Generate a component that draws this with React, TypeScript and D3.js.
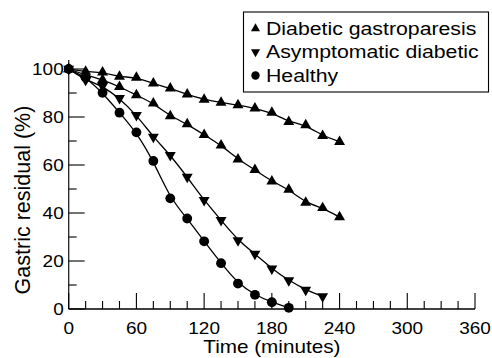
import React from 'react';
import * as d3 from 'd3';

// Gastric emptying curves: residual (%) over time, three groups.
// Values; markers every 15 min.

const gastroTimes = [0, 15, 30, 45, 60, 75, 90, 105, 120, 135, 150, 165, 180, 195, 210, 225, 240];
const gastroValues = [100, 98.9, 98.6, 96.8, 96.4, 94, 91.9, 89.4, 87.3, 86, 85, 83.6, 81.8, 78, 76.6, 72.2, 69.7];

// second upward-triangle series, as printed in the original
const gastro2Times = [0, 15, 30, 45, 60, 75, 90, 105, 120, 135, 150, 165, 180, 195, 210, 225, 240];
const gastro2Values = [100, 97.5, 95.5, 92.6, 89.1, 85.7, 80.4, 77, 72.6, 68.2, 62.4, 58, 53.2, 49.8, 44.3, 42.1, 38.3];

const asymTimes = [0, 15, 30, 45, 60, 75, 90, 105, 120, 135, 150, 165, 180, 195, 210, 225];
const asymValues = [100, 95.4, 92.9, 87.8, 80.8, 71.7, 64.1, 55, 45.3, 37, 28.6, 23, 16.8, 11.9, 8, 5.2];

const healthyTimes = [0, 15, 30, 45, 60, 75, 90, 105, 120, 135, 150, 165, 180, 195];
const healthyValues = [100, 96.5, 90.1, 81.8, 73.6, 61.7, 46.1, 37.7, 28.2, 19.1, 10.6, 5.9, 2.8, 0.5];

const xMajorTicks = [0, 60, 120, 180, 240, 300, 360];
const xMinorTicks = d3.range(15, 360, 15).filter((t) => t % 60 !== 0);
const yMajorTicks = [0, 20, 40, 60, 80, 100];
const yMinorTicks = [10, 30, 50, 70, 90];

const legendItems = [
  { label: 'Diabetic gastroparesis', symbol: 'up' },
  { label: 'Asymptomatic diabetic', symbol: 'down' },
  { label: 'Healthy', symbol: 'circle' },
];

const W = 492;
const H = 358;
const FONT = '"Liberation Sans", Arial, Helvetica, sans-serif';
const STRETCH = 1.15;

const x = d3.scaleLinear().domain([0, 360]).range([68.7, 475]);
const y = d3.scaleLinear().domain([0, 100]).range([309, 69]);

const triPath = d3.symbol().type(d3.symbolTriangle).size(52)() ?? '';
const circPath = d3.symbol().type(d3.symbolCircle).size(76)() ?? '';
const legTriPath = d3.symbol().type(d3.symbolTriangle).size(36)() ?? '';
const legCircPath = d3.symbol().type(d3.symbolCircle).size(56)() ?? '';

function Marker({ kind, cx, cy, small }: { kind: string; cx: number; cy: number; small?: boolean }) {
  if (kind === 'circle') {
    return <path d={small ? legCircPath : circPath} transform={`translate(${cx},${cy})`} fill="#000" />;
  }
  const rot = kind === 'down' ? ' rotate(180)' : '';
  return <path d={small ? legTriPath : triPath} transform={`translate(${cx},${cy})${rot}`} fill="#000" />;
}

function StretchText({
  tx,
  ty,
  size,
  anchor = 'start',
  children,
}: {
  tx: number;
  ty: number;
  size: number;
  anchor?: string;
  children: React.ReactNode;
}) {
  return (
    <text
      transform={`translate(${tx},${ty}) scale(${STRETCH},1)`}
      fontSize={size}
      fontFamily={FONT}
      textAnchor={anchor as any}
      fill="#000"
    >
      {children}
    </text>
  );
}

export default function App() {
  const line = d3
    .line<[number, number]>()
    .x((d) => x(d[0]))
    .y((d) => y(d[1]))
    .curve(d3.curveBasis);

  const series = [
    { times: gastroTimes, values: gastroValues, kind: 'up' },
    { times: gastro2Times, values: gastro2Values, kind: 'up' },
    { times: asymTimes, values: asymValues, kind: 'down' },
    { times: healthyTimes, values: healthyValues, kind: 'circle' },
  ];

  const x0 = x(0);
  const yBase = y(0);

  return (
    <svg
      width={W}
      height={H}
      style={{ position: 'absolute', left: 0, top: 0, background: '#fff' }}
    >
      {/* axes */}
      <line x1={x0} x2={x0} y1={60} y2={yBase} stroke="#222" strokeWidth={1.3} />
      <line x1={x0} x2={x(360)} y1={yBase} y2={yBase} stroke="#000" strokeWidth={1.4} />
      {xMajorTicks.map((t) => (
        <line key={`xM${t}`} x1={x(t)} x2={x(t)} y1={yBase} y2={yBase - 16} stroke="#000" strokeWidth={1.1} />
      ))}
      {xMinorTicks.map((t) => (
        <line key={`xm${t}`} x1={x(t)} x2={x(t)} y1={yBase} y2={yBase - 8} stroke="#000" strokeWidth={1.1} />
      ))}
      {yMajorTicks.map((v) => (
        <line key={`yM${v}`} x1={x0} x2={x0 + 16} y1={y(v)} y2={y(v)} stroke="#000" strokeWidth={1.1} />
      ))}
      {yMinorTicks.map((v) => (
        <line key={`ym${v}`} x1={x0} x2={x0 + 8} y1={y(v)} y2={y(v)} stroke="#000" strokeWidth={1.1} />
      ))}
      {xMajorTicks.map((t) => (
        <StretchText key={`xl${t}`} tx={x(t)} ty={yBase + 25} size={16.5} anchor="middle">
          {t}
        </StretchText>
      ))}
      {yMajorTicks.map((v) => (
        <StretchText key={`yl${v}`} tx={x0 - 5} ty={y(v) + 6} size={16.5} anchor="end">
          {v}
        </StretchText>
      ))}
      <StretchText tx={(x0 + x(360)) / 2} ty={353} size={18} anchor="middle">
        Time (minutes)
      </StretchText>
      <text
        transform={`translate(30,200) rotate(-90)`}
        fontSize={21.5}
        fontFamily={FONT}
        textAnchor="middle"
        fill="#000"
      >
        Gastric residual (%)
      </text>

      {/* curves and markers */}
      {series.map((s, i) => {
        const pts = s.times.map((t, j) => [t, s.values[j]] as [number, number]);
        return (
          <g key={i}>
            <path d={line(pts) ?? ''} fill="none" stroke="#000" strokeWidth={1.3} />
            {pts.map((p, j) => (
              <Marker key={j} kind={s.kind} cx={x(p[0])} cy={y(p[1])} />
            ))}
          </g>
        );
      })}

      {/* legend */}
      <rect x={243.5} y={12} width={245} height={80} fill="#fff" stroke="#000" strokeWidth={1.1} />
      {legendItems.map((item, i) => {
        const base = 34.5 + i * 23.5;
        return (
          <g key={item.label}>
            <Marker kind={item.symbol} cx={255.5} cy={base - 6} small />
            <StretchText tx={266} ty={base} size={18.5}>
              {item.label}
            </StretchText>
          </g>
        );
      })}
    </svg>
  );
}
